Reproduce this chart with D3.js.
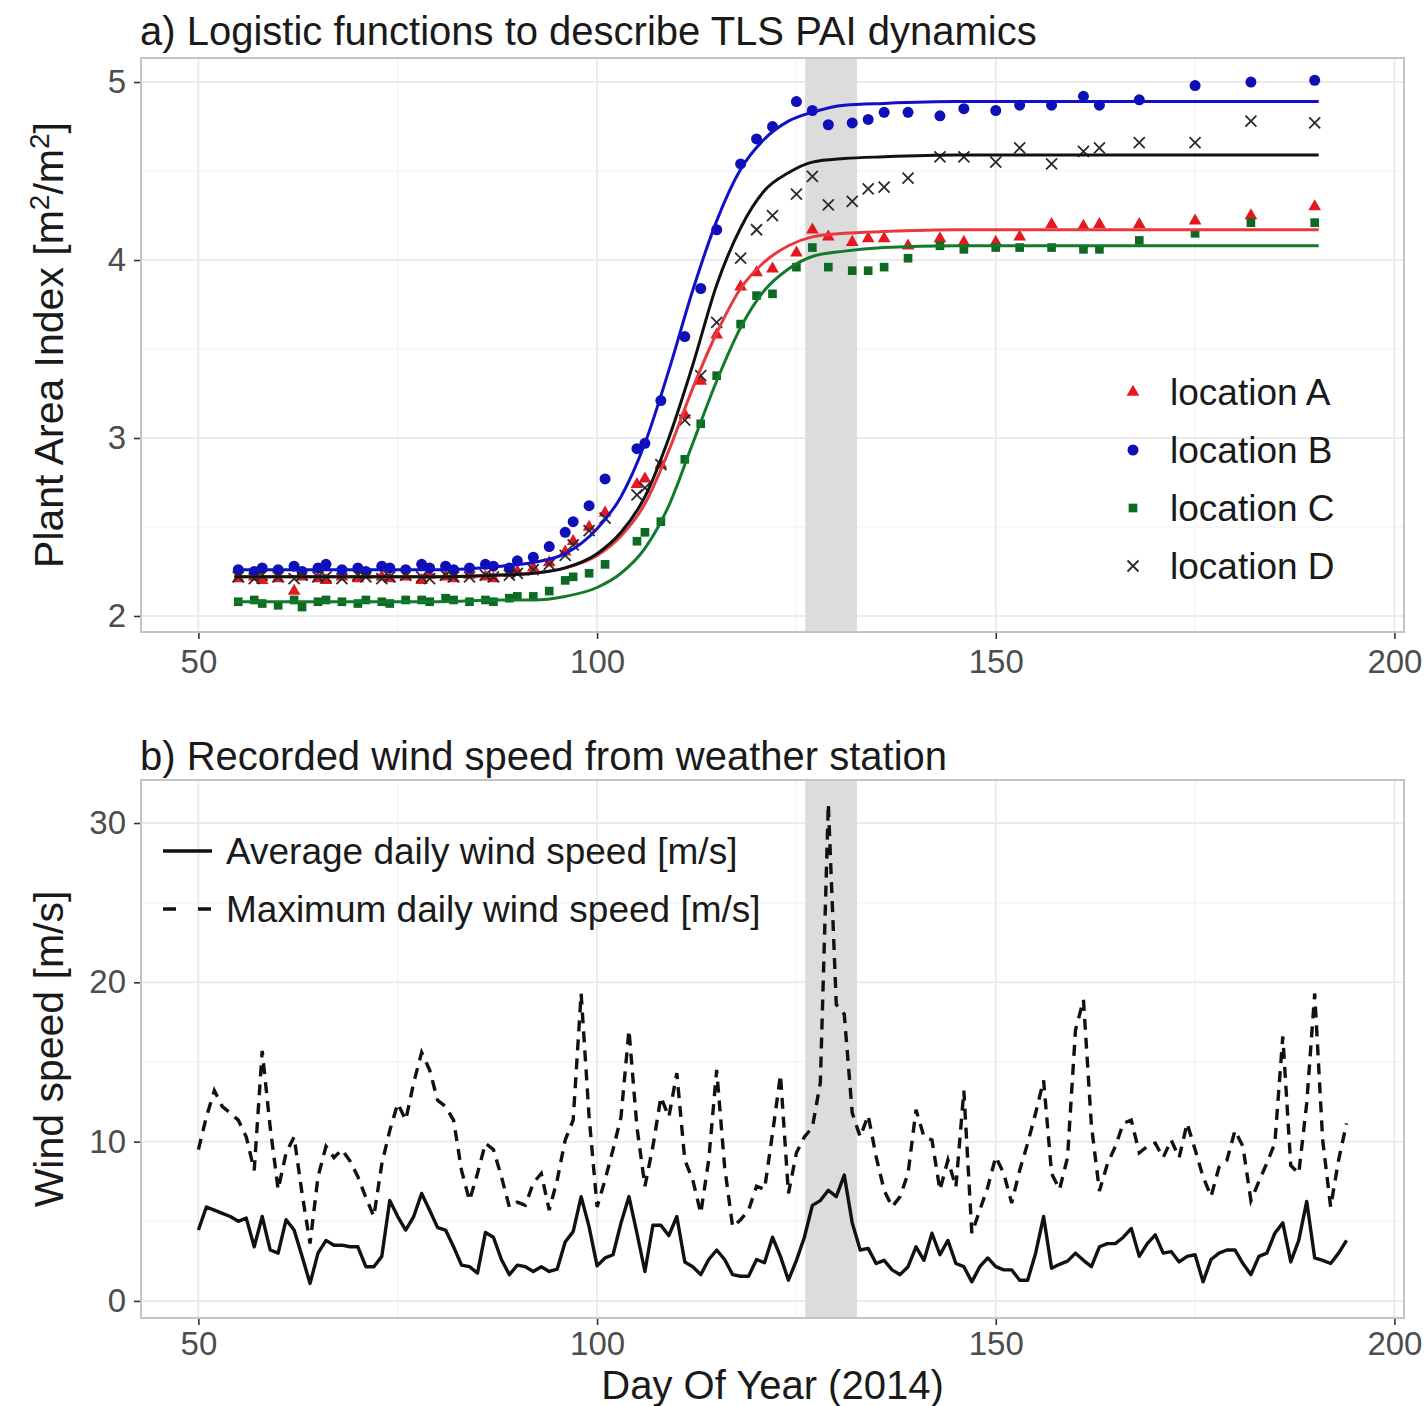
<!DOCTYPE html>
<html>
<head>
<meta charset="utf-8">
<script src="https://cdn.jsdelivr.net/npm/d3@7"></script>
<style>
  body { margin: 0; background: #fff; }
  svg { display: block; }
  text { font-family: "Liberation Sans", Arial, sans-serif; }
</style>
</head>
<body>
<div id="chart"></div>
<script>
// ---- Data: plant area index observations (day of year) ----
const obsDays = [55, 57, 58, 60, 62, 63, 65, 66, 68, 70, 71, 73, 74, 76, 78, 79, 81, 82, 84, 86,
                 87, 89, 90, 92, 94, 96, 97, 99, 101,
                 105, 106, 108, 111, 113, 115, 118, 120, 122, 125, 127, 129, 132, 134, 136,
                 139, 143, 146, 150, 153, 157, 161, 163, 168, 175, 182, 190];

const paiA = [2.21, 2.22, 2.20, 2.21, 2.14, 2.22, 2.21, 2.20, 2.22, 2.21, 2.23, 2.22, 2.21, 2.22, 2.20, 2.23, 2.22, 2.21, 2.23, 2.22,
              2.21, 2.24, 2.25, 2.27, 2.30, 2.36, 2.42, 2.50, 2.58,
              2.74, 2.77, 2.85, 3.13, 3.32, 3.58, 3.85, 3.93, 3.95, 4.04, 4.17, 4.13, 4.10, 4.12, 4.12,
              4.08, 4.12, 4.10, 4.10, 4.13, 4.20, 4.19, 4.20, 4.20, 4.22, 4.25, 4.30];
const paiB = [2.26, 2.25, 2.27, 2.26, 2.28, 2.25, 2.27, 2.29, 2.26, 2.27, 2.25, 2.28, 2.27, 2.26, 2.29, 2.27, 2.28, 2.26, 2.27, 2.29,
              2.28, 2.27, 2.31, 2.33, 2.39, 2.47, 2.53, 2.62, 2.77,
              2.94, 2.97, 3.21, 3.57, 3.84, 4.17, 4.54, 4.68, 4.75, 4.89, 4.84, 4.76, 4.77, 4.79, 4.83,
              4.83, 4.81, 4.85, 4.84, 4.87, 4.87, 4.92, 4.87, 4.90, 4.98, 5.00, 5.01];
const paiC = [2.08, 2.09, 2.07, 2.06, 2.09, 2.05, 2.08, 2.09, 2.08, 2.07, 2.09, 2.08, 2.07, 2.09, 2.09, 2.08, 2.10, 2.09, 2.08, 2.09,
              2.08, 2.10, 2.11, 2.11, 2.14, 2.20, 2.22, 2.24, 2.29,
              2.42, 2.47, 2.53, 2.88, 3.08, 3.35, 3.64, 3.80, 3.81, 3.96, 4.07, 3.96, 3.94, 3.94, 3.96,
              4.01, 4.08, 4.06, 4.07, 4.07, 4.07, 4.06, 4.06, 4.11, 4.15, 4.21, 4.21];
const paiD = [2.22, 2.21, 2.23, 2.22, 2.21, 2.23, 2.22, 2.22, 2.21, 2.23, 2.22, 2.21, 2.22, 2.23, 2.22, 2.21, 2.23, 2.22, 2.22, 2.23,
              2.22, 2.23, 2.24, 2.26, 2.29, 2.34, 2.40, 2.48, 2.55,
              2.68, 2.72, 2.85, 3.10, 3.35, 3.65, 4.01, 4.17, 4.25, 4.37, 4.47, 4.31, 4.33, 4.40, 4.41,
              4.46, 4.58, 4.58, 4.55, 4.63, 4.54, 4.61, 4.63, 4.66, 4.66, 4.78, 4.77];

// ---- Fitted logistic curves ----
const fitDays = [54.5, 80, 88, 92, 96, 100, 103, 106, 109, 112, 115, 118, 121, 124, 127, 131, 136, 145, 160, 190.5];
const fitA = [2.22, 2.22, 2.23, 2.24, 2.27, 2.34, 2.45, 2.63, 2.93, 3.28, 3.59, 3.84, 3.99, 4.08, 4.13, 4.15, 4.16, 4.17, 4.17, 4.17];
const fitB = [2.26, 2.26, 2.28, 2.30, 2.35, 2.49, 2.67, 2.97, 3.38, 3.83, 4.22, 4.51, 4.68, 4.78, 4.83, 4.87, 4.88, 4.89, 4.89, 4.89];
const fitC = [2.08, 2.08, 2.09, 2.09, 2.11, 2.16, 2.24, 2.38, 2.62, 2.97, 3.32, 3.62, 3.83, 3.95, 4.02, 4.05, 4.07, 4.08, 4.08, 4.08];
const fitD = [2.22, 2.22, 2.23, 2.24, 2.27, 2.35, 2.47, 2.67, 3.00, 3.41, 3.86, 4.18, 4.39, 4.49, 4.55, 4.57, 4.58, 4.59, 4.59, 4.59];

const locations = ["location A", "location B", "location C", "location D"];

// ---- Wind speed, one value per day from day 50 to day 194 ----
const windStartDay = 50;
const windAvg = [4.45, 5.9, 5.7, 5.5, 5.3, 5.0, 5.2, 3.4, 5.3, 3.2,
                 3.0, 5.1, 4.45, 2.8, 1.1, 3.0, 3.8, 3.5, 3.5, 3.4,
                 3.4, 2.15, 2.15, 2.8, 6.3, 5.3, 4.45, 5.3, 6.75, 5.7,
                 4.6, 4.45, 3.4, 2.25, 2.15, 1.75, 4.3, 4.0, 2.6, 1.65,
                 2.25, 2.15, 1.85, 2.15, 1.85, 2.0, 3.7, 4.35, 6.55, 4.65,
                 2.2, 2.7, 2.9, 4.9, 6.55, 4.25, 1.85, 4.75, 4.75, 4.1,
                 5.3, 2.45, 2.15, 1.65, 2.6, 3.2, 2.6, 1.65, 1.55, 1.55,
                 2.6, 2.4, 4.0, 2.8, 1.3, 2.55, 4.0, 6.0, 6.3, 6.95,
                 6.55, 7.9, 4.9, 3.2, 3.3, 2.35, 2.55, 1.95, 1.65, 2.15,
                 3.4, 2.55, 4.25, 2.9, 3.8, 2.35, 2.15, 1.2, 2.15, 2.7,
                 2.15, 1.95, 1.95, 1.3, 1.3, 3.0, 5.3, 2.05, 2.3, 2.5,
                 3.0, 2.55, 2.15, 3.4, 3.6, 3.6, 4.0, 4.55, 2.8, 3.6,
                 4.15, 3.0, 3.1, 2.45, 2.8, 2.9, 1.2, 2.6, 3.0, 3.2,
                 3.2, 2.35, 1.65, 2.8, 3.0, 4.25, 4.9, 2.45, 3.8, 6.25,
                 2.7, 2.55, 2.35, 3.0, 3.8];
const windMax = [9.5, 11.55, 13.2, 12.2, 11.8, 11.35, 10.3, 8.2, 15.7, 10.9,
                 7.0, 9.3, 10.3, 6.75, 3.6, 7.8, 9.7, 9.0, 9.5, 8.8,
                 7.8, 6.5, 5.3, 8.6, 10.7, 12.4, 11.35, 13.7, 15.6, 14.5,
                 12.6, 12.2, 11.35, 8.2, 6.3, 8.0, 9.9, 9.5, 7.8, 5.9,
                 6.2, 6.0, 7.4, 8.0, 5.7, 7.6, 10.1, 11.35, 19.3, 11.55,
                 5.9, 7.6, 9.5, 11.55, 17.0, 10.9, 7.2, 9.7, 12.8, 11.55,
                 14.3, 8.85, 7.6, 5.5, 8.85, 14.5, 8.4, 4.65, 5.1, 5.7,
                 7.2, 7.0, 10.5, 14.2, 6.75, 9.3, 10.3, 10.9, 13.7, 31.2,
                 18.6, 18.0, 11.8, 10.3, 11.65, 9.05, 6.95, 5.9, 6.55, 8.0,
                 12.0, 10.3, 10.1, 6.95, 8.85, 7.15, 13.2, 4.25, 5.7, 7.15,
                 9.05, 8.0, 6.15, 8.2, 9.9, 11.8, 13.85, 8.0, 7.0, 9.0,
                 17.0, 18.9, 11.0, 6.9, 8.6, 9.7, 11.15, 11.35, 9.3, 9.7,
                 9.9, 9.0, 10.1, 9.0, 11.15, 9.5, 7.8, 6.55, 8.4, 8.85,
                 10.7, 9.7, 6.3, 7.5, 8.65, 9.9, 16.6, 8.5, 8.0, 12.4,
                 19.3, 10.1, 5.9, 8.85, 11.15];
const windLabels = ["Average daily wind speed [m/s]", "Maximum daily wind speed [m/s]"];

// ---- Ticks and the shaded storm period ----
const dayTicks = [50, 100, 150, 200];
const dayMinor = [75, 125, 175];
const paiTicks = [2, 3, 4, 5];
const paiMinor = [2.5, 3.5, 4.5];
const windTicks = [0, 10, 20, 30];
const windMinor = [5, 15, 25];
const stormDays = [126.1, 132.6];

// ---- Layout ----
const width = 1428, height = 1406;
const panelLeft = 141, panelRight = 1404;
const topPanel = {top: 58, bottom: 632, xPad: 11};
const botPanel = {top: 780, bottom: 1318, xPad: 7};

const svg = d3.select("#chart").append("svg")
    .attr("width", width)
    .attr("height", height);

svg.append("rect").attr("width", width).attr("height", height).attr("fill", "#fff");

// Scales
const xScale = d3.scaleLinear().domain([42.8, 201.2]).range([panelLeft, panelRight]);
const yPai = d3.scaleLinear().domain([1.91, 5.135]).range([topPanel.bottom, topPanel.top]);
const yWind = d3.scaleLinear().domain([-1.07, 32.7]).range([botPanel.bottom, botPanel.top]);

const colors = {"location A": "#e3191f", "location B": "#0f0fb8", "location C": "#0c6a22", "location D": "#2a2a2a"};
const lineColors = {"location A": "#e8393f", "location B": "#1010c8", "location C": "#137a2c", "location D": "#111"};

// Grid, storm band and axes for a panel
function drawFrame(y, panel, yTicks, yMinor) {
    const g = svg.append("g");

    g.selectAll(".vminor").data(dayMinor).enter().append("line")
        .attr("x1", d => xScale(d)).attr("x2", d => xScale(d))
        .attr("y1", panel.top).attr("y2", panel.bottom)
        .attr("stroke", "#f4f4f4").attr("stroke-width", 1.5);
    g.selectAll(".hminor").data(yMinor).enter().append("line")
        .attr("x1", panelLeft).attr("x2", panelRight)
        .attr("y1", d => y(d)).attr("y2", d => y(d))
        .attr("stroke", "#f4f4f4").attr("stroke-width", 1.5);
    g.selectAll(".vmajor").data(dayTicks).enter().append("line")
        .attr("x1", d => xScale(d)).attr("x2", d => xScale(d))
        .attr("y1", panel.top).attr("y2", panel.bottom)
        .attr("stroke", "#ebebeb").attr("stroke-width", 2);
    g.selectAll(".hmajor").data(yTicks).enter().append("line")
        .attr("x1", panelLeft).attr("x2", panelRight)
        .attr("y1", d => y(d)).attr("y2", d => y(d))
        .attr("stroke", "#ebebeb").attr("stroke-width", 2);

    // storm period
    g.append("rect")
        .attr("x", xScale(stormDays[0]))
        .attr("y", panel.top)
        .attr("width", xScale(stormDays[1]) - xScale(stormDays[0]))
        .attr("height", panel.bottom - panel.top)
        .attr("fill", "#dcdcdc");

    // axes
    svg.append("g")
        .attr("transform", `translate(0,${panel.bottom})`)
        .call(d3.axisBottom(xScale).tickValues(dayTicks).tickSize(7).tickPadding(panel.xPad))
        .call(styleAxis);
    svg.append("g")
        .attr("transform", `translate(${panelLeft},0)`)
        .call(d3.axisLeft(y).tickValues(yTicks).tickSize(7).tickPadding(8).tickFormat(d3.format("d")))
        .call(styleAxis);
}

function styleAxis(g) {
    g.select(".domain").remove();
    g.selectAll(".tick line").attr("stroke", "#333").attr("stroke-width", 1.6);
    g.selectAll(".tick text")
        .attr("font-size", 33)
        .attr("fill", "#4d4d4d")
        .attr("font-family", "'Liberation Sans', Arial, sans-serif");
}

function drawBorder(panel) {
    svg.append("rect")
        .attr("x", panelLeft).attr("y", panel.top)
        .attr("width", panelRight - panelLeft)
        .attr("height", panel.bottom - panel.top)
        .attr("fill", "none")
        .attr("stroke", "#c4c4c4")
        .attr("stroke-width", 2);
}

// ================= Panel a =================
drawFrame(yPai, topPanel, paiTicks, paiMinor);

const paiSeries = [
    {name: "location A", values: paiA, fit: fitA},
    {name: "location B", values: paiB, fit: fitB},
    {name: "location C", values: paiC, fit: fitC},
    {name: "location D", values: paiD, fit: fitD}
];

function marker(sel, name) {
    if (name === "location A") {
        sel.append("path").attr("d", d3.symbol(d3.symbolTriangle, 70)()).attr("fill", colors[name]);
    } else if (name === "location B") {
        sel.append("circle").attr("r", 5.5).attr("fill", colors[name]);
    } else if (name === "location C") {
        sel.append("path").attr("d", d3.symbol(d3.symbolSquare, 75)()).attr("fill", colors[name]);
    } else {
        sel.append("path").attr("d", "M-5.5,-5.5L5.5,5.5M-5.5,5.5L5.5,-5.5")
            .attr("stroke", colors[name]).attr("stroke-width", 1.8).attr("fill", "none");
    }
}

const pointLayer = svg.append("g");
paiSeries.forEach(s => {
    const pts = pointLayer.selectAll(null)
        .data(obsDays.map((d, i) => ({day: d, v: s.values[i]})))
        .enter().append("g")
        .attr("transform", d => `translate(${xScale(d.day)},${yPai(d.v)})`);
    pts.each(function() { marker(d3.select(this), s.name); });
});

const fitLine = d3.line()
    .x(d => xScale(d.day))
    .y(d => yPai(d.v))
    .curve(d3.curveMonotoneX);

paiSeries.forEach(s => {
    svg.append("path")
        .datum(fitDays.map((d, i) => ({day: d, v: s.fit[i]})))
        .attr("d", fitLine)
        .attr("fill", "none")
        .attr("stroke", lineColors[s.name])
        .attr("stroke-width", 3);
});

drawBorder(topPanel);

// legend a
const legA = svg.selectAll(".legA")
    .data(locations)
    .enter().append("g")
    .attr("transform", (d, i) => `translate(1133,${392 + i * 58})`);
legA.each(function(d) { marker(d3.select(this), d); });
legA.append("text")
    .attr("x", 37)
    .attr("dy", "0.36em")
    .attr("font-size", 37)
    .attr("fill", "#1a1a1a")
    .text(d => d);

svg.append("text")
    .attr("x", 140).attr("y", 45)
    .attr("font-size", 40)
    .attr("fill", "#1a1a1a")
    .text("a) Logistic functions to describe TLS PAI dynamics");

const ylabA = svg.append("text")
    .attr("transform", `translate(63,${(topPanel.top + topPanel.bottom) / 2}) rotate(-90)`)
    .attr("text-anchor", "middle")
    .attr("font-size", 41)
    .attr("fill", "#1a1a1a");
ylabA.append("tspan").text("Plant Area Index [m");
ylabA.append("tspan").attr("dy", -14).attr("font-size", 28).text("2");
ylabA.append("tspan").attr("dy", 14).text("/m");
ylabA.append("tspan").attr("dy", -14).attr("font-size", 28).text("2");
ylabA.append("tspan").attr("dy", 14).text("]");

// ================= Panel b =================
drawFrame(yWind, botPanel, windTicks, windMinor);

const windLine = d3.line()
    .x((d, i) => xScale(windStartDay + i))
    .y(d => yWind(d));

svg.append("path")
    .datum(windMax)
    .attr("d", windLine)
    .attr("fill", "none")
    .attr("stroke", "#111")
    .attr("stroke-width", 3.4)
    .attr("stroke-dasharray", "11,8");

svg.append("path")
    .datum(windAvg)
    .attr("d", windLine)
    .attr("fill", "none")
    .attr("stroke", "#111")
    .attr("stroke-width", 3.4)
    .attr("stroke-linejoin", "round");

drawBorder(botPanel);

// legend b
const legB = svg.selectAll(".legB")
    .data(windLabels)
    .enter().append("g")
    .attr("transform", (d, i) => `translate(163,${851 + i * 58})`);
legB.append("line")
    .attr("x1", 0).attr("x2", 49)
    .attr("stroke", "#111")
    .attr("stroke-width", 3.4)
    .attr("stroke-dasharray", (d, i) => i === 0 ? null : "13,22");
legB.append("text")
    .attr("x", 63)
    .attr("dy", "0.36em")
    .attr("font-size", 37)
    .attr("fill", "#1a1a1a")
    .text(d => d);

svg.append("text")
    .attr("x", 140).attr("y", 770)
    .attr("font-size", 40)
    .attr("fill", "#1a1a1a")
    .text("b) Recorded wind speed from weather station");

svg.append("text")
    .attr("transform", `translate(63,${(botPanel.top + botPanel.bottom) / 2}) rotate(-90)`)
    .attr("text-anchor", "middle")
    .attr("font-size", 41)
    .attr("fill", "#1a1a1a")
    .text("Wind speed [m/s]");

svg.append("text")
    .attr("x", (panelLeft + panelRight) / 2)
    .attr("y", 1399)
    .attr("text-anchor", "middle")
    .attr("font-size", 40)
    .attr("fill", "#1a1a1a")
    .text("Day Of Year (2014)");
</script>
</body>
</html>
